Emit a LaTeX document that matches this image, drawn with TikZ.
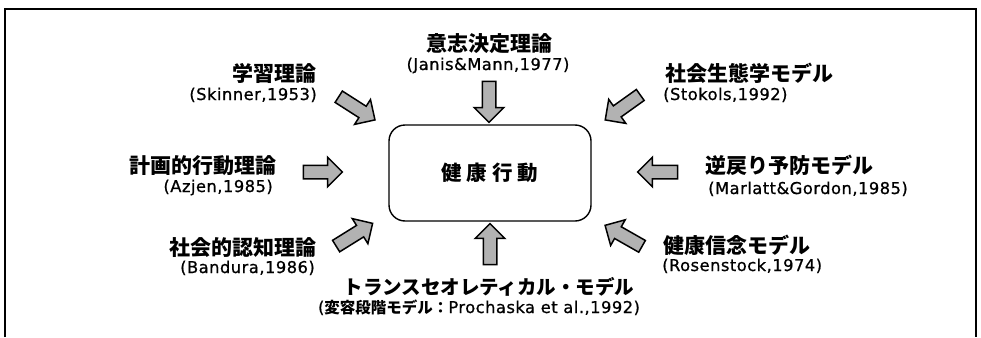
\documentclass[tikz,border=0pt]{standalone}
\usepackage{fontspec}
\setmainfont{Noto Sans CJK JP}
\newfontfamily\jp{Noto Sans CJK JP}
\newfontfamily\lat{DejaVu Sans}[LetterSpace=3,FakeBold=0.8]
\usetikzlibrary{shapes.arrows}
\begin{document}
\begin{tikzpicture}[x=1pt,y=-1pt,
  ttl/.style={inner sep=0pt, font=\jp\bfseries\fontsize{21}{21}\selectfont},
  sub/.style={inner sep=0pt, font=\lat\fontsize{16.3}{16.3}\selectfont},
  barrow/.style={single arrow, draw=black, line width=1.5pt, fill=gray!60,
    single arrow head extend=8pt, single arrow head indent=0pt,
    inner xsep=0pt, inner ysep=6pt, minimum height=42pt},
  hbox/.style={draw, line width=1.4pt, rounded corners=16pt, minimum width=202pt,
    minimum height=96pt, inner sep=0pt, font=\jp\bfseries\fontsize{20.5}{20.5}\selectfont},
  frame/.style={line width=1.2pt}
]
\useasboundingbox (0,0) rectangle (981,337);
% frame
\coordinate (f1) at (5,337);
\coordinate (f2) at (5,9);
\coordinate (f3) at (976,9);
\coordinate (f4) at (976,337);
\draw[frame] (f1) -- (f2) -- (f3) -- (f4);
% center
\node[hbox] (hb) at (490,173) {健\hspace{5pt}康\hspace{5pt}行\hspace{5pt}動};
% arrows
\node[barrow, rotate=-32.6, minimum height=43pt] (a1) at (354,106.5) {};
\node[barrow, rotate=-90, minimum height=41pt] (a2) at (489,98.5) {};
\node[barrow, rotate=-144.5, minimum height=43pt] (a3) at (625.5,105.5) {};
\node[barrow, rotate=0, minimum height=39pt] (a4) at (319.5,172) {};
\node[barrow, rotate=180, minimum height=40pt] (a5) at (661,172) {};
\node[barrow, rotate=31.9, minimum height=43pt] (a6) at (351.5,236.5) {};
\node[barrow, rotate=90, minimum height=41pt] (a7) at (490,247.5) {};
\node[barrow, rotate=150.4, minimum height=42.5pt] (a8) at (626.5,237.5) {};
% labels left
\node[ttl, anchor=base east] (t1) at (317,81.5) {学習理論};
\node[sub, anchor=base east] (s1) at (317,100) {(Skinner,1953)};
\node[ttl, anchor=base east] (t4) at (277,173.5) {計画的行動理論};
\node[sub, anchor=base east] (s4) at (273,192) {(Azjen,1985)};
\node[ttl, anchor=base east] (t6) at (317,255.5) {社会的認知理論};
\node[sub, anchor=base east] (s6) at (315,273) {(Bandura,1986)};
% labels center
\node[ttl, anchor=base] (t2) at (489.5,51.5) {意志決定理論};
\node[sub, anchor=base] (s2) at (488,70) {(Janis\&Mann,1977)};
\node[ttl, anchor=base, font=\jp\bfseries\fontsize{19.5}{19.5}\selectfont] (t7) at (489,294.5) {トランスセオレティカル・モデル};
\node[sub, anchor=base] (s7) at (479,313) {({\jp\bfseries\fontsize{15.5}{15.5}\selectfont 変容段階モデル：}Prochaska et al.,1992)};
% labels right
\node[ttl, anchor=base west] (t3) at (665,81.5) {社会生態学モデル};
\node[sub, anchor=base west] (s3) at (663,100) {(Stokols,1992)};
\node[ttl, anchor=base west] (t5) at (705,173.5) {逆戻り予防モデル};
\node[sub, anchor=base west] (s5) at (708,194) {(Marlatt\&Gordon,1985)};
\node[ttl, anchor=base west] (t8) at (663,253.5) {健康信念モデル};
\node[sub, anchor=base west] (s8) at (662,271) {(Rosenstock,1974)};
\end{tikzpicture}
\end{document}
